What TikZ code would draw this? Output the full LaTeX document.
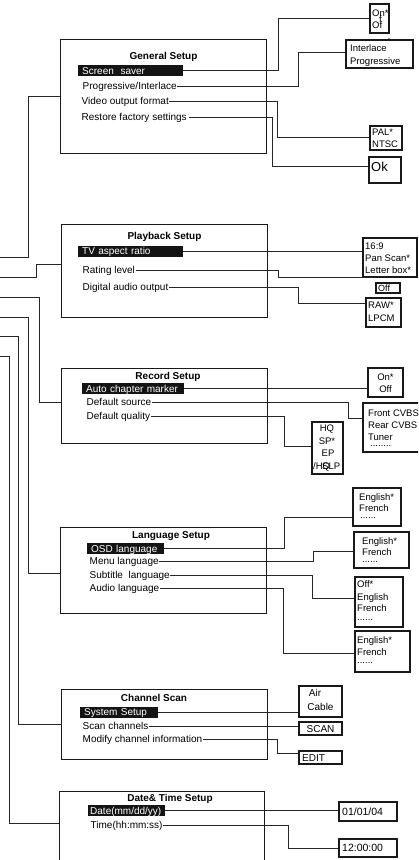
\documentclass[tikz,border=0pt]{standalone}
\usepackage{fontspec}
\setmainfont{Liberation Sans}
\newcommand\mkbox[6]{\node[#1, minimum width={#5-#3}, minimum height={#6-#4}] (#2) at ({(#3+#5)/2},{(#4+#6)/2}) {};}
\begin{document}
\begin{tikzpicture}[x=1pt,y=-1pt,
  menu/.style={draw=black!90, line width=0.9pt, inner sep=0pt},
  obox/.style={draw=black!90, line width=1.1pt, inner sep=0pt},
  item/.style={anchor=west, inner xsep=0.5pt, inner ysep=0pt, text height=7pt, text depth=0pt, font=\fontsize{10}{12}\selectfont},
  hl/.style={item, fill=black!92, text=white, inner xsep=4pt, minimum height=11pt, align=left},
  ttl/.style={inner sep=0pt, text height=7pt, text depth=0pt, font=\bfseries\fontsize{10}{12}\selectfont},
  otx/.style={anchor=west, inner sep=0pt, text height=7pt, text depth=0pt, font=\fontsize{9.5}{11}\selectfont},
  otc/.style={otx, anchor=center},
  dots/.style={otx, text height=1.5pt},
  wire/.style={draw=black!85, line width=0.8pt},
]
\useasboundingbox (0,0) rectangle (418,860);
\clip (0,0) rectangle (418,860);
\fill[white] (0,0) rectangle (418,860);

% ---------- General Setup ----------
\mkbox{menu}{gen}{60}{39}{266}{153}
\node[ttl] (gent) at (163.5,56) {General Setup};
\node[hl, text width=97pt] (ss) at (78,70.5) {Screen\ \ saver};
\node[item] (pi) at (82,86) {Progressive/Interlace};
\node[item] (vof) at (81,101) {Video output format};
\node[item] (rfs) at (81,117) {Restore factory settings};

\mkbox{obox}{onof}{370}{4}{389}{33}
\node[otx] (onof1) at (372,13) {On*};
\node[otx] (onof2) at (372,25) {Of};
\node[otx, text height=5pt] (onof3) at (379,19.5) {f};
\node[otx, font=\fontsize{5}{5}\selectfont, text height=2pt] (onof4) at (388,40) {*};
\mkbox{obox}{intl}{346}{40}{413}{68}
\node[otx] (intl1) at (350,48) {Interlace};
\node[otx] (intl2) at (350,61) {Progressive};
\mkbox{obox}{pal}{370}{126}{402}{150}
\node[otx] (pal1) at (372,132) {PAL*};
\node[otx] (pal2) at (372,144) {NTSC};
\mkbox{obox}{ok}{369}{157}{401}{183}
\node[otx, font=\fontsize{13}{14}\selectfont, text height=9pt] (okt) at (371,167) {Ok};

\draw[wire] (ss.east) -| (278,18) -- (onof.west |- 0,18);
\draw[wire] (pi.east) -| (298,52) -- (intl.west |- 0,52);
\draw[wire] (vof.east) -| (277,137) -- (pal.west |- 0,137);
\draw[wire] (rfs.east) ++(2,0) -| (272,166) -- (ok.west |- 0,166);

% ---------- Playback Setup ----------
\mkbox{menu}{pb}{61}{224}{267}{317}
\node[ttl] (pbt) at (164.5,236) {Playback Setup};
\node[hl, text width=97pt] (tv) at (78,251) {TV aspect ratio};
\node[item] (rl) at (82,270) {Rating level};
\node[item] (dao) at (82,287) {Digital audio output};

\mkbox{obox}{ar}{363}{238}{417}{277}
\node[otx] (ar1) at (365,246) {16:9};
\node[otx] (ar2) at (365,258) {Pan Scan*};
\node[otx] (ar3) at (365,270) {Letter box*};
\mkbox{obox}{off}{376}{283}{400}{293}
\node[otx, font=\fontsize{9}{10}\selectfont] (offt) at (378,288) {Off};
\mkbox{obox}{raw}{366}{298}{401}{327}
\node[otx] (raw1) at (368,305) {RAW*};
\node[otx] (raw2) at (368,318) {LPCM};

\draw[wire] (tv.east) -- (ar.west |- tv.east);
\draw[wire] (rl.east) -| (278,277.5) -- (off.west |- 0,277.5);
\draw[wire] (dao.east) -| (298,303) -- (raw.west |- 0,303);

% ---------- Record Setup ----------
\mkbox{menu}{rec}{61}{368}{267}{443}
\node[ttl] (rect) at (168,376) {Record Setup};
\node[hl, text width=94pt] (acm) at (82,388.5) {Auto chapter marker};
\node[item] (ds) at (86,402) {Default source};
\node[item] (dq) at (86,416) {Default quality};

\mkbox{obox}{oo}{368}{368}{403}{397}
\node[otc] (oo1) at (385.5,377) {On*};
\node[otc] (oo2) at (385.5,389) {Off};
\mkbox{obox}{src}{363}{403}{430}{452}
\node[otx] (src1) at (368,413) {Front CVBS};
\node[otx] (src2) at (368,425) {Rear CVBS};
\node[otx] (src3) at (368,437) {Tuner};
\node[dots] (src4) at (370,446) {........};
\mkbox{obox}{hq}{312}{422}{343}{474}
\node[otc] (hq1) at (327,428) {HQ};
\node[otc] (hq2) at (327,441) {SP*};
\node[otc] (hq3) at (328,453) {EP};
\node[otx] (hq4) at (322,466) {SLP};
\node[otx] (hq5) at (313,466) {/HQ};

\draw[wire] (acm.east) -- (oo.west |- acm.east);
\draw[wire] (ds.east) -| (348,418) -- (src.west |- 0,418);
\draw[wire] (dq.east) -| (284,446) -- (hq.west |- 0,446);

% ---------- Language Setup ----------
\mkbox{menu}{lang}{60}{527}{266}{613}
\node[ttl] (langt) at (171,535) {Language Setup};
\node[hl, text width=69pt] (osd) at (87,548.5) {OSD language};
\node[item] (ml) at (89,561) {Menu language};
\node[item] (sl) at (89,575) {Subtitle\ \ language};
\node[item] (al) at (89,588) {Audio language};

\mkbox{obox}{e1}{353}{488}{401}{526}
\node[otx] (e1a) at (359,497) {English*};
\node[otx] (e1b) at (359,508) {French};
\node[dots] (e1c) at (360,518) {......};
\mkbox{obox}{e2}{354}{532}{409}{568}
\node[otx] (e2a) at (362,541) {English*};
\node[otx] (e2b) at (362,552) {French};
\node[dots] (e2c) at (362,561.5) {......};
\mkbox{obox}{e3}{355}{577}{403}{627}
\node[otx] (e3a) at (357,584) {Off*};
\node[otx] (e3b) at (357,597) {English};
\node[otx] (e3c) at (357,608) {French};
\node[dots] (e3d) at (357,620) {......};
\mkbox{obox}{e4}{355}{631}{410}{672}
\node[otx] (e4a) at (357,640) {English*};
\node[otx] (e4b) at (357,652) {French};
\node[dots] (e4c) at (357,663) {......};

\draw[wire] (osd.east) -| (284,517) -- (e1.west |- 0,517);
\draw[wire] (ml.east) -| (313,551) -- (e2.west |- 0,551);
\draw[wire] (sl.east) -| (312,598) -- (e3.west |- 0,598);
\draw[wire] (al.east) -| (283,653) -- (e4.west |- 0,653);

% ---------- Channel Scan ----------
\mkbox{menu}{ch}{61}{689}{267}{759}
\node[ttl] (cht) at (154,698) {Channel Scan};
\node[hl, text width=70pt] (sys) at (80,712) {System Setup};
\node[item] (sc) at (82,726) {Scan channels};
\node[item] (mci) at (82,739) {Modify channel information};

\mkbox{obox}{air}{299}{686}{342}{717}
\node[otc, font=\fontsize{10}{11}\selectfont] (air1) at (315,693) {Air};
\node[otc, font=\fontsize{10}{11}\selectfont] (air2) at (320.5,707) {Cable};
\mkbox{obox}{scan}{299}{722}{342}{735}
\node[otc, font=\fontsize{10}{11}\selectfont] (scant) at (320.5,728.5) {SCAN};
\mkbox{obox}{edit}{299}{751}{342}{764}
\node[otx, font=\fontsize{10}{11}\selectfont] (editt) at (302,757.5) {EDIT};

\draw[wire] (sys.east) -- (air.west |- sys.east);
\draw[wire] (sc.east) -- (scan.west |- sc.east);
\draw[wire] (mci.east) -| (277,753) -- (edit.west |- 0,753);

% ---------- Date & Time Setup ----------
\mkbox{menu}{dt}{59}{791}{264}{880}
\node[ttl] (dtt) at (170,798) {Date\& Time Setup};
\node[hl, text width=73pt, inner xsep=2pt] (date) at (88,810.5) {Date(mm/dd/yy)};
\node[item] (time) at (90,825) {Time(hh:mm:ss)};

\mkbox{obox}{d1}{339}{802}{397}{821}
\node[otx, font=\fontsize{10.5}{11}\selectfont] (d1t) at (342,811.5) {01/01/04};
\mkbox{obox}{d2}{339}{839}{397}{857}
\node[otx, font=\fontsize{10.5}{11}\selectfont] (d2t) at (342,848) {12:00:00};

\draw[wire] (date.east) -- (d1.west |- date.east);
\draw[wire] (time.east) -| (288,848) -- (d2.west |- 0,848);

% ---------- left trunks ----------
\coordinate (in1) at (0,257);
\coordinate (in2) at (0,277);
\coordinate (in3) at (0,297);
\coordinate (in4) at (0,317);
\coordinate (in5) at (0,336);
\coordinate (in6) at (0,356);
\draw[wire] (in1) -| (28,96) -- (gen.west |- 0,96);
\draw[wire] (in2) -| (36,264) -- (pb.west |- 0,264);
\draw[wire] (in3) -| (39,402) -- (rec.west |- 0,402);
\draw[wire] (in4) -| (28,573) -- (lang.west |- 0,573);
\draw[wire] (in5) -| (18,724) -- (ch.west |- 0,724);
\draw[wire] (in6) -| (9,823) -- (dt.west |- 0,823);
\end{tikzpicture}
\end{document}
